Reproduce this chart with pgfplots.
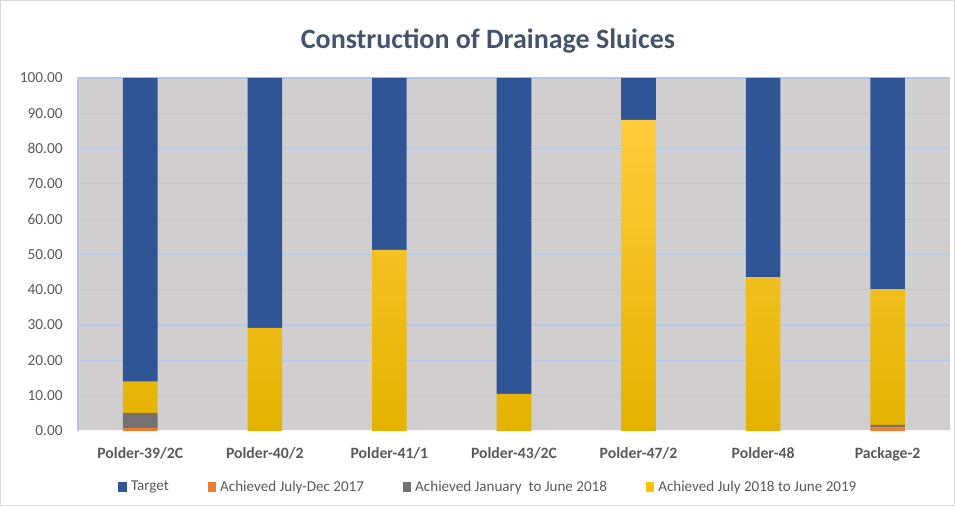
\documentclass[border=0pt]{standalone}
\usepackage{pgfplots}
\pgfplotsset{compat=1.18}
\usepackage{fontspec}
\setmainfont{Carlito}
\definecolor{cBlue}{RGB}{47,85,151}
\definecolor{cOrange}{RGB}{237,125,49}
\definecolor{cGray}{RGB}{118,113,113}
\definecolor{cYellow}{RGB}{255,192,0}
\definecolor{cYellowTop}{RGB}{255,204,60}
\definecolor{cYellowBot}{RGB}{228,178,0}
\definecolor{cBack}{RGB}{208,206,206}
\definecolor{cGrid}{RGB}{180,199,231}
\definecolor{cText}{RGB}{89,89,89}
\definecolor{cTitle}{RGB}{68,84,106}
\definecolor{cBorder}{RGB}{217,217,217}
\begin{document}
\begin{tikzpicture}
\begin{axis}[
  scale only axis,
  width=654pt, height=264.75pt,
  ybar stacked, bar width=26pt,
  xmin=-0.5, xmax=6.5, ymin=0, ymax=100,
  xtick={0,...,6},
  xticklabels={Polder-39/2C,Polder-40/2,Polder-41/1,Polder-43/2C,Polder-47/2,Polder-48,Package-2},
  x tick label style={font=\fontsize{11.8}{14}\selectfont\bfseries, text=cText, yshift=-9pt},
  ytick={0,10,...,100},
  y tick label style={font=\fontsize{11.5}{13}\selectfont, text=cText, xshift=-8pt},
  /pgf/number format/assume math mode=true,
  yticklabel={\pgfmathprintnumber[fixed,fixed zerofill,precision=2]{\tick}},
  ymajorgrids, grid style={cGrid, line width=0.9pt},
  axis background/.style={fill=cBack},
  axis x line*=bottom, axis y line*=left,
  x axis line style={draw=white!90!cGrid, line width=0.8pt},
  y axis line style={draw=cGrid, line width=0.9pt},
  tick style={draw=none},
  major tick length=0pt,
  title={Construction of Drainage Sluices},
  title style={font=\fontsize{21}{25}\selectfont\bfseries, text=cTitle, yshift=9pt, xshift=-19.5pt},
  legend style={at={(0.471,-0.159)}, anchor=center, draw=none, fill=none,
    legend columns=4, font=\fontsize{11.3}{13}\selectfont, text=cText,
    /tikz/every even column/.append style={column sep=27pt}},
  legend image code/.code={\fill[#1, draw=none] (0pt,-3.5pt) rectangle (6.5pt,3.5pt);},
  clip=false,
]
\addlegendimage{fill=cBlue}\addlegendentry{\hspace{1pt}Target}
\addlegendimage{fill=cOrange}\addlegendentry{\hspace{1pt}Achieved July-Dec 2017}
\addlegendimage{fill=cGray}\addlegendentry{\hspace{1pt}Achieved January\ \ to June 2018}
\addlegendimage{fill=cYellow}\addlegendentry{\hspace{1pt}Achieved July 2018 to June 2019}
\addplot[forget plot, fill=cOrange, draw=none] coordinates {(0,0.8) (1,0) (2,0) (3,0) (4,0) (5,0) (6,1.0)};
\addplot[forget plot, fill=cGray, draw=none] coordinates {(0,4.3) (1,0) (2,0) (3,0) (4,0) (5,0) (6,0.7)};
\addplot[forget plot, draw=none, top color=cYellowTop, bottom color=cYellowBot] coordinates {(0,8.9) (1,29.2) (2,51.3) (3,10.5) (4,88.1) (5,43.6) (6,38.5)};
\addplot[forget plot, fill=cBlue, draw=none] coordinates {(0,86.0) (1,70.8) (2,48.7) (3,89.5) (4,11.9) (5,56.4) (6,59.8)};
\coordinate (SW) at (rel axis cs:0,0);
\coordinate (NE) at (rel axis cs:1,1);
\end{axis}
\draw[cBorder, line width=0.8pt] ([xshift=-58.1pt,yshift=-55.9pt]SW) rectangle ([xshift=3.4pt,yshift=58.1pt]NE);
\useasboundingbox ([xshift=-58.5pt,yshift=-56.25pt]SW) rectangle ([xshift=3.75pt,yshift=58.5pt]NE);
\end{tikzpicture}
\end{document}
